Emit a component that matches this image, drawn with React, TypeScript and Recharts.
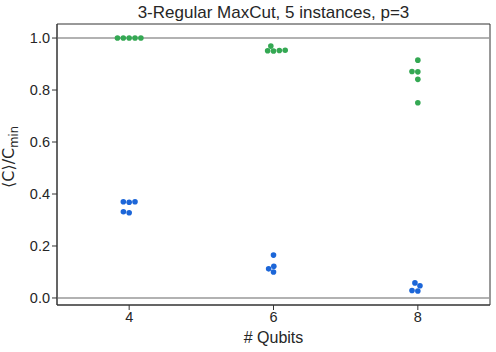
import React from 'react';
import { ScatterChart, Scatter, XAxis, YAxis, ReferenceLine, ReferenceArea } from 'recharts';

// ---- data ----
const qubits = [4, 6, 8];
const xTicks = [4, 6, 8];
const yTicks = [0, 0.2, 0.4, 0.6, 0.8, 1.0];
const green4 = [1.0, 1.0, 1.0, 1.0, 1.0];
const green6 = [0.951, 0.952, 0.95, 0.953, 0.969];
const green8 = [0.915, 0.87, 0.871, 0.841, 0.751];
const blue4 = [0.37, 0.368, 0.37, 0.328, 0.332];
const blue6 = [0.165, 0.122, 0.112, 0.1];
const blue8 = [0.058, 0.047, 0.029, 0.027];
const titleText = '3-Regular MaxCut, 5 instances, p=3';
const xLabel = '# Qubits';

// ---- layout ----
const W = 496;
const H = 352;
const M = { top: 24, right: 6, left: 0, bottom: 0 };
const Y_AXIS_W = 57;
const X_AXIS_H = 47;
const X_DOMAIN: [number, number] = [3, 9];
const Y_DOMAIN: [number, number] = [-0.027, 1.054];
const PLOT_W = W - M.left - M.right - Y_AXIS_W;
const PLOT_H = H - M.top - M.bottom - X_AXIS_H;
const PX_X = PLOT_W / (X_DOMAIN[1] - X_DOMAIN[0]);
const PX_Y = PLOT_H / (Y_DOMAIN[1] - Y_DOMAIN[0]);
const R = 2.79;

const GREEN = '#34a853';
const BLUE = '#1c66d8';
const FONT = 'Liberation Sans';

// seaborn-like beeswarm placement (offsets computed in pixel space)
function swarm(values: number[], center: number) {
  const order = values.map((v, i) => ({ v, i })).sort((a, b) => a.v - b.v);
  const placed: { x: number; y: number; v: number }[] = [];
  for (const p of order) {
    const y = p.v * PX_Y;
    const neighbors: { x: number; y: number }[] = [];
    for (let k = placed.length - 1; k >= 0; k--) {
      if (Math.abs(y - placed[k].y) < 2 * R) neighbors.push(placed[k]);
      else break;
    }
    const cands: number[] = [0];
    let leftFirst = true;
    for (const n of neighbors) {
      const dy = y - n.y;
      const dx = Math.sqrt(Math.max(4 * R * R - dy * dy, 0)) * 1.05;
      const cl = n.x - dx;
      const cr = n.x + dx;
      if (leftFirst) cands.push(cl, cr);
      else cands.push(cr, cl);
      leftFirst = !leftFirst;
    }
    const sorted = cands.slice().sort((a, b) => Math.abs(a) - Math.abs(b));
    let chosen = sorted[sorted.length - 1];
    for (const c of sorted) {
      const ok = neighbors.every((n) => (c - n.x) ** 2 + (y - n.y) ** 2 >= 4 * R * R - 1e-6);
      if (ok) {
        chosen = c;
        break;
      }
    }
    placed.push({ x: chosen, y, v: p.v });
  }
  return placed.map((p) => ({ x: center + p.x / PX_X, y: p.v }));
}

const greenData = [
  ...swarm(green4, qubits[0]),
  ...swarm(green6, qubits[1]),
  ...swarm(green8, qubits[2]),
];
const blueData = [
  ...swarm(blue4, qubits[0]),
  ...swarm(blue6, qubits[1]),
  ...swarm(blue8, qubits[2]),
];

const dot = (color: string) => (props: any) => (
  <circle cx={props.cx} cy={props.cy} r={2.8} fill={color} stroke="none" />
);

const YLabel = () => {
  const cx = 14;
  const cy = 157;
  return (
    <text
      x={cx}
      y={cy}
      transform={`rotate(-90 ${cx} ${cy})`}
      textAnchor="middle"
      fontFamily="DejaVu Sans"
      fontSize={16}
      fill="#262626"
    >
      <tspan>⟨C⟩/C</tspan>
      <tspan fontSize={11.5} dy={4}>min</tspan>
    </text>
  );
};

export default function App() {
  return (
    <div style={{ position: 'absolute', left: 0, top: 0, width: W, height: H, background: '#fff' }}>
      <ScatterChart width={W} height={H} margin={M}>
        <XAxis
          type="number"
          dataKey="x"
          domain={X_DOMAIN}
          ticks={xTicks}
          height={X_AXIS_H}
          tickSize={5}
          tickMargin={2}
          allowDataOverflow
          stroke="#333"
          tick={{ fill: '#262626', fontSize: 14.5, fontFamily: FONT }}
          tickLine={{ stroke: '#333' }}
          label={{
            value: xLabel,
            position: 'insideBottom',
            offset: 9,
            fill: '#262626',
            fontSize: 16,
            fontFamily: FONT,
          }}
        />
        <YAxis
          type="number"
          dataKey="y"
          domain={Y_DOMAIN}
          ticks={yTicks}
          width={Y_AXIS_W}
          tickSize={5}
          tickMargin={2}
          allowDataOverflow
          stroke="#333"
          tickFormatter={(v: number) => v.toFixed(1)}
          tick={{ fill: '#262626', fontSize: 14.5, fontFamily: FONT }}
          tickLine={{ stroke: '#333' }}
        />
        <ReferenceArea
          x1={X_DOMAIN[0]}
          x2={X_DOMAIN[1]}
          y1={Y_DOMAIN[0]}
          y2={Y_DOMAIN[1]}
          fill="none"
          stroke="#333"
          strokeWidth={1}
          ifOverflow="visible"
        />
        <ReferenceLine y={1} stroke="#999" strokeWidth={1.5} ifOverflow="visible" />
        <ReferenceLine y={0} stroke="#999" strokeWidth={1.5} ifOverflow="visible" />
        <Scatter data={greenData} shape={dot(GREEN)} isAnimationActive={false} />
        <Scatter data={blueData} shape={dot(BLUE)} isAnimationActive={false} />
        <text
          x={Y_AXIS_W + M.left + PLOT_W / 2}
          y={18}
          textAnchor="middle"
          fontFamily={FONT}
          fontSize={17}
          fill="#262626"
        >
          {titleText}
        </text>
        <YLabel />
      </ScatterChart>
    </div>
  );
}
